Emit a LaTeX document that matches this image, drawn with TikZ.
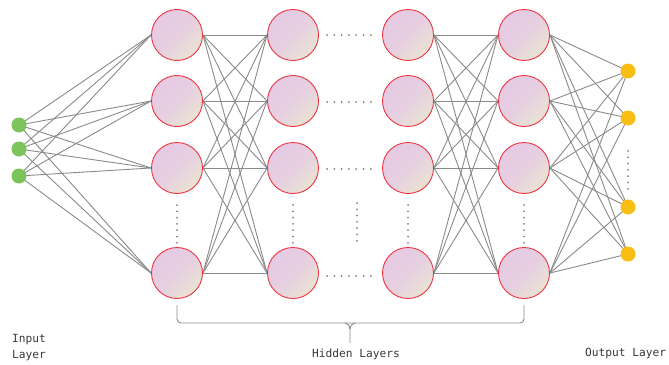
\documentclass[tikz,border=0pt]{standalone}
\usepackage{fontspec}
\setmonofont{DejaVu Sans Mono}
\pgfdeclarelayer{bg}\pgfsetlayers{bg,main}
\definecolor{pinkc}{HTML}{E6CAE4}
\definecolor{beigec}{HTML}{E9E3D3}
\definecolor{redc}{HTML}{EC3440}
\definecolor{greenc}{HTML}{7CC45A}
\definecolor{yellowc}{HTML}{F8BE14}
\definecolor{linec}{HTML}{8A8A8A}
\definecolor{dotc}{HTML}{808080}
\definecolor{textc}{HTML}{383838}
\begin{document}
\begin{tikzpicture}[x=1pt,y=-1pt,
  hid/.style={circle,draw=redc,line width=0.9pt,minimum size=51pt,inner sep=0pt,
    top color=pinkc,bottom color=beigec,middle color=pinkc!80!beigec,shading angle=45},
  inp/.style={circle,fill=greenc,minimum size=15pt,inner sep=0pt},
  outp/.style={circle,fill=yellowc,minimum size=15pt,inner sep=0pt},
  conn/.style={draw=linec,line width=0.9pt},
  bracestyle/.style={draw=linec,line width=0.9pt},
  lbl/.style={font=\ttfamily\fontsize{11.2}{13}\selectfont,text=textc,inner sep=0pt}]
\useasboundingbox (0,0) rectangle (669,364);
% input
\foreach \y [count=\i] in {125,149,176} \node[inp] (in\i) at (19,\y) {};
% hidden
\foreach \x [count=\c] in {177,293,408,524}
  \foreach \y [count=\r] in {35,101,168,273}
    \node[hid] (h\c\r) at (\x,\y) {};
% output
\foreach \y [count=\i] in {71,118,207,254} \node[outp] (out\i) at (628,\y) {};
\begin{pgfonlayer}{bg}
\foreach \i in {1,2,3} \foreach \j in {1,...,4} \draw[conn] (in\i.center) -- (h1\j.west);
\foreach \i in {1,...,4} \foreach \j in {1,...,4} \draw[conn] (h1\i.east) -- (h2\j.west);
\foreach \i in {1,...,4} \foreach \j in {1,...,4} \draw[conn] (h3\i.east) -- (h4\j.west);
\foreach \i in {1,...,4} \foreach \j in {1,...,4} \draw[conn] (h4\i.east) -- (out\j.center);
\end{pgfonlayer}
% vertical dots in hidden columns
\foreach \x in {177,293,408,524}
  \foreach \k in {0,...,6} \fill[dotc] (\x,205+6.3*\k) circle (1);
% middle vertical dots
\foreach \k in {0,...,6} \fill[dotc] (357,203+6.3*\k) circle (1);
% output dots
\foreach \k in {0,...,6} \fill[dotc] (628,151+6.3*\k) circle (1);
% horizontal dots
\foreach \y in {35,102,169,276}
  \foreach \k in {0,...,6} \fill[dotc] (327+7.3*\k,\y) circle (1);
% brace
\draw[bracestyle,rounded corners=4pt] (177,305) -- (177,323) -- (524,323) -- (524,305);
\draw[bracestyle] (345,323) to[out=0,in=90] (350,329) -- (350,343);
\draw[bracestyle] (355,323) to[out=180,in=90] (350,329);
% labels
\node[lbl,anchor=west] (linput) at (12,340) {Input};
\node[lbl,anchor=west] (llayer) at (12,356) {Layer};
\node[lbl] (lhidden) at (356,354) {Hidden Layers};
\node[lbl,anchor=west] (loutput) at (585,354) {Output Layer};
\end{tikzpicture}
\end{document}
